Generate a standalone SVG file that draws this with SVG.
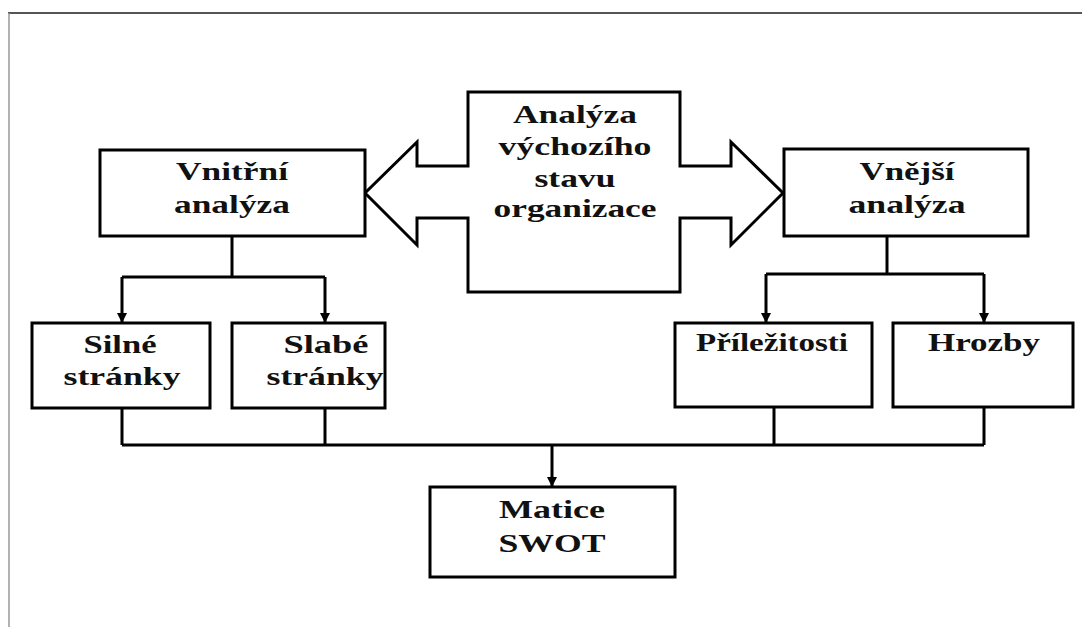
<svg xmlns="http://www.w3.org/2000/svg" width="1082" height="627" viewBox="0 0 1082 627">
<defs>
<marker id="ah" viewBox="0 0 10 10" refX="10" refY="5" markerWidth="10" markerHeight="10" markerUnits="userSpaceOnUse" orient="auto">
<path d="M0,0 L10,5 L0,10 Z" fill="#000"/>
</marker>
<style>
.box{fill:#fff;stroke:#000;stroke-width:3}
.c{fill:none;stroke:#000;stroke-width:3}
</style>
</defs>
<rect width="1082" height="627" fill="#fff"/>
<g id="frame">
<line x1="8" y1="13" x2="1082" y2="13" stroke="#555" stroke-width="2"/>
<line x1="9" y1="13" x2="9" y2="627" stroke="#999" stroke-width="1.5"/>
</g>
<g id="connectors">
<path class="c" d="M232,236 V277 M122,277 H325"/>
<path class="c" d="M122,277 V323" marker-end="url(#ah)"/>
<path class="c" d="M325,277 V323" marker-end="url(#ah)"/>
<path class="c" d="M887,236 V274" stroke-width="5"/>
<path class="c" d="M766,274 H984"/>
<path class="c" d="M766,274 V323" marker-end="url(#ah)"/>
<path class="c" d="M984,274 V323" marker-end="url(#ah)"/>
<path class="c" d="M122,408 V445 M325,408 V445 M774,407 V445 M984,407 V445 M122,445 H984"/>
<path class="c" d="M552,445 V487" marker-end="url(#ah)"/>
</g>
<g font-family="Liberation Serif, Times New Roman, serif" font-weight="bold" font-size="25" fill="#111" text-anchor="middle">
<g id="center">
<path class="box" d="M468,92 H680 V166 H731 V142 L783,193 L731,245 V218 H680 V292 H468 V218 H417 V245 L365,193 L417,142 V166 H468 Z"/>
<text x="575" y="123" textLength="124" lengthAdjust="spacingAndGlyphs">Analýza</text>
<text x="575" y="155" textLength="153" lengthAdjust="spacingAndGlyphs">výchozího</text>
<text x="575" y="187" textLength="81" lengthAdjust="spacingAndGlyphs">stavu</text>
<text x="575" y="217" textLength="163" lengthAdjust="spacingAndGlyphs">organizace</text>
</g>
<g id="vnitrni">
<rect class="box" x="100" y="150" width="265" height="86"/>
<text x="232" y="180" textLength="112" lengthAdjust="spacingAndGlyphs">Vnitřní</text>
<text x="232" y="213" textLength="116" lengthAdjust="spacingAndGlyphs">analýza</text>
</g>
<g id="vnejsi">
<rect class="box" x="784" y="149" width="244" height="87"/>
<text x="907" y="180" textLength="95" lengthAdjust="spacingAndGlyphs">Vnější</text>
<text x="907" y="213" textLength="117" lengthAdjust="spacingAndGlyphs">analýza</text>
</g>
<g id="silne">
<rect class="box" x="32" y="323" width="178" height="85"/>
<text x="120" y="353" textLength="73" lengthAdjust="spacingAndGlyphs">Silné</text>
<text x="122" y="385" textLength="117" lengthAdjust="spacingAndGlyphs">stránky</text>
</g>
<g id="slabe">
<rect class="box" x="232" y="323" width="153" height="85"/>
<text x="326" y="353" textLength="85" lengthAdjust="spacingAndGlyphs">Slabé</text>
<text x="325" y="385" textLength="117" lengthAdjust="spacingAndGlyphs">stránky</text>
</g>
<g id="prilezitosti">
<rect class="box" x="675" y="323" width="197" height="84"/>
<text x="772" y="351" textLength="152" lengthAdjust="spacingAndGlyphs">Příležitosti</text>
</g>
<g id="hrozby">
<rect class="box" x="893" y="323" width="180" height="84"/>
<text x="984" y="351" textLength="112" lengthAdjust="spacingAndGlyphs">Hrozby</text>
</g>
<g id="matice">
<rect class="box" x="430" y="487" width="245" height="90"/>
<text x="552" y="518" textLength="106" lengthAdjust="spacingAndGlyphs">Matice</text>
<text x="552" y="552" textLength="107" lengthAdjust="spacingAndGlyphs">SWOT</text>
</g>
</g>
</svg>
